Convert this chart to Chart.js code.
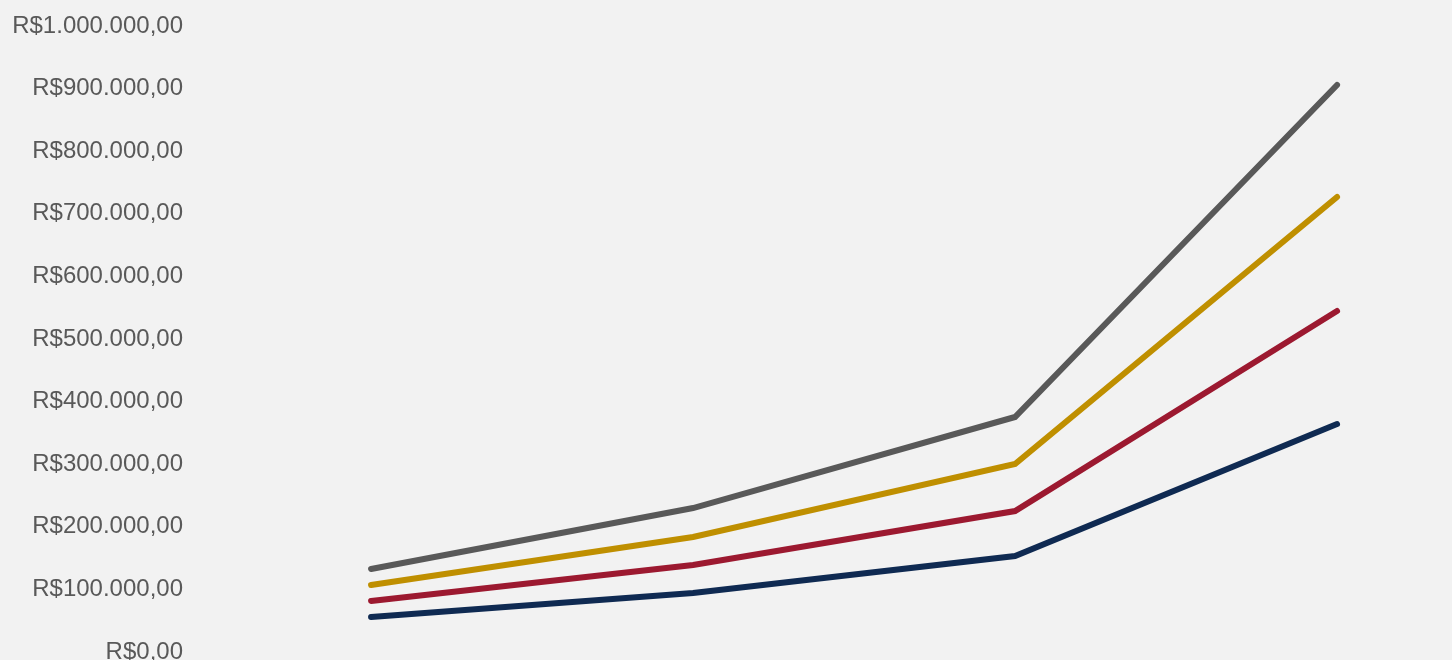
<!DOCTYPE html>
<html lang="pt-BR">
<head>
<meta charset="utf-8">
<title>Projeção</title>
<script src="https://cdn.jsdelivr.net/npm/chart.js@4.4.1/dist/chart.umd.min.js"></script>
<style>
    html, body { margin: 0; padding: 0; background: #f2f2f2; overflow: hidden; }
    #wrap { width: 1452px; height: 660px; }
</style>
</head>
<body>
<div id="wrap"><canvas id="projChart" width="1452" height="660"></canvas></div>
<script>
const categories = ['Período 1', 'Período 2', 'Período 3', 'Período 4'];
const serieCinza = [129400, 226800, 372200, 902600];
const serieOuro = [103800, 180500, 297100, 723600];
const serieVermelha = [78300, 135800, 222000, 541500];
const serieAzul = [52700, 91000, 150200, 361000];
const yTicks = [0, 100000, 200000, 300000, 400000, 500000, 600000, 700000, 800000, 900000, 1000000];

function brl(v) {
    const inteiro = Math.round(v).toString().replace(/\B(?=(\d{3})+(?!\d))/g, '.');
    return 'R$' + inteiro + ',00';
}

function pontos(values) {
    return values.map((v, i) => ({ x: i, y: v, label: categories[i] }));
}

function serie(label, values, color) {
    return {
        label: label,
        data: pontos(values),
        borderColor: color,
        backgroundColor: color,
        borderWidth: 6,
        borderCapStyle: 'round',
        borderJoinStyle: 'miter',
        pointRadius: 0,
        tension: 0,
        fill: false
    };
}

document.addEventListener('DOMContentLoaded', function () {
    const ctx = document.getElementById('projChart').getContext('2d');
    new Chart(ctx, {
        type: 'line',
        data: {
            datasets: [
                serie('Série 1', serieCinza, '#595959'),
                serie('Série 2', serieOuro, '#bf8f00'),
                serie('Série 3', serieVermelha, '#9c1930'),
                serie('Série 4', serieAzul, '#0f2a52')
            ]
        },
        options: {
            responsive: false,
            animation: false,
            layout: { padding: { top: 24, bottom: 10, left: 0, right: 0 } },
            plugins: { legend: { display: false }, tooltip: { enabled: false } },
            scales: {
                x: {
                    type: 'linear',
                    display: false,
                    min: -0.553,
                    max: 3.357
                },
                y: {
                    min: 0,
                    max: 1000000,
                    afterFit: (scale) => {
                        scale.width = 193;
                        scale.paddingTop = 0;
                        scale.paddingBottom = 0;
                    },
                    afterBuildTicks: (scale) => { scale.ticks = yTicks.map(v => ({ value: v })); },
                    grid: { display: false, drawTicks: false },
                    border: { display: false },
                    ticks: {
                        padding: 10,
                        labelOffset: 2,
                        color: '#595959',
                        font: { family: '"Liberation Sans", Arial, sans-serif', size: 24 },
                        callback: (v) => brl(v)
                    }
                }
            }
        }
    });
});
</script>
</body>
</html>
